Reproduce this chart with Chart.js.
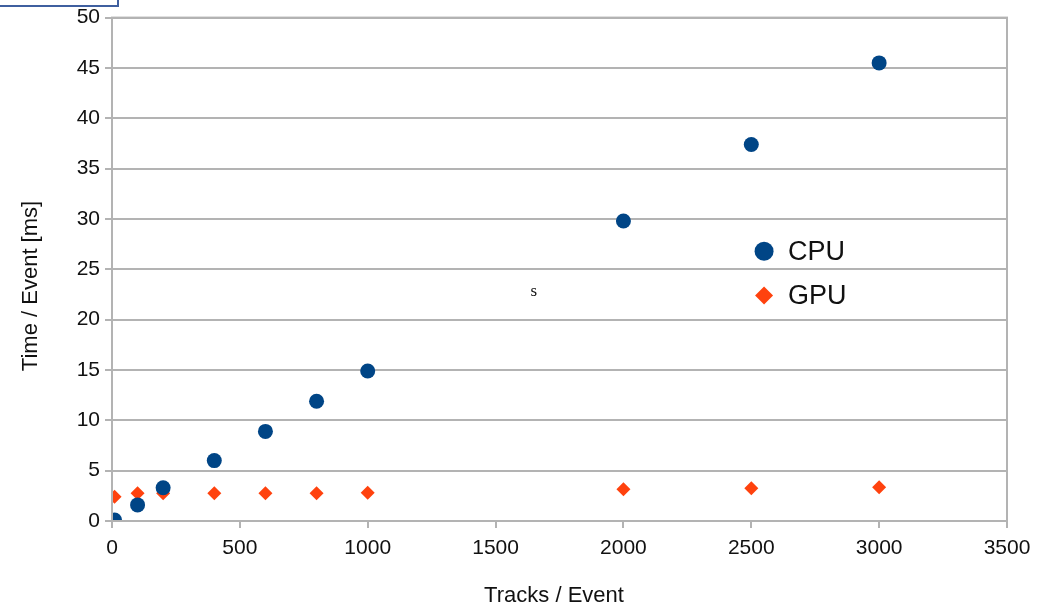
<!DOCTYPE html>
<html><head><meta charset="utf-8">
<script src="https://cdn.jsdelivr.net/npm/chart.js@4/dist/chart.umd.min.js"></script>
<style>
html,body{margin:0;padding:0;background:#fff;}
#wrap{position:relative;width:1051px;height:606px;overflow:hidden;}
#box{position:absolute;left:-3px;top:-20px;width:118px;height:23px;border:2px solid #3f5f9f;background:#fff;}
</style></head>
<body><div id="wrap"><canvas id="c" width="1051" height="606"></canvas><div id="box"></div></div>
<script>
const tracks = [10, 100, 200, 400, 600, 800, 1000, 2000, 2500, 3000];
const cpuTimes = [0.1, 1.6, 3.3, 6.0, 8.9, 11.9, 14.9, 29.8, 37.4, 45.5];
const gpuTimes = [2.4, 2.75, 2.75, 2.75, 2.75, 2.75, 2.8, 3.15, 3.25, 3.35];
const seriesNames = ['CPU', 'GPU'];
const xTitle = 'Tracks / Event';
const yTitle = 'Time / Event [ms]';
const xTicks = [0, 500, 1000, 1500, 2000, 2500, 3000, 3500];
const yTicks = [0, 5, 10, 15, 20, 25, 30, 35, 40, 45, 50];
const FONT = "'Liberation Sans', Arial, sans-serif";
const GRID = '#b3b3b3';
const TEXT = '#111';

const toPts = (xs, ys) => xs.map((x, i) => ({x, y: ys[i]}));

const framePlugin = {
  id: 'frame',
  afterDraw(chart) {
    const {ctx, chartArea: a, scales} = chart;
    ctx.save();
    ctx.strokeStyle = GRID; ctx.lineWidth = 2;
    ctx.strokeRect(a.left, a.top, a.right - a.left, a.bottom - a.top);
    // axis titles
    ctx.fillStyle = TEXT;
    ctx.font = "22px " + FONT; ctx.textBaseline = 'middle'; ctx.textAlign = 'center';
    ctx.fillText(xTitle, 554, 596);
    ctx.save();
    ctx.translate(31, 286); ctx.rotate(-Math.PI / 2);
    ctx.fillText(yTitle, 0, 0);
    ctx.restore();
    // legend
    const lx = scales.x.getPixelForValue(2550);
    const items = [
      {y: scales.y.getPixelForValue(26.8), name: seriesNames[0], color: '#004586', shape: 'circle'},
      {y: scales.y.getPixelForValue(22.4), name: seriesNames[1], color: '#ff420e', shape: 'rect'}
    ];
    ctx.font = "27px " + FONT; ctx.textAlign = 'left';
    items.forEach(it => {
      ctx.fillStyle = it.color;
      ctx.beginPath();
      if (it.shape === 'circle') { ctx.arc(lx, it.y, 9.5, 0, Math.PI*2); }
      else { ctx.moveTo(lx, it.y-9); ctx.lineTo(lx+9, it.y); ctx.lineTo(lx, it.y+9); ctx.lineTo(lx-9, it.y); ctx.closePath(); }
      ctx.fill();
      ctx.fillStyle = TEXT;
      ctx.fillText(it.name, lx + 24, it.y + 1);
    });
    // stray "s"
    ctx.font = "17px 'Liberation Serif', 'DejaVu Serif', serif";
    ctx.textAlign = 'center';
    ctx.fillText('s', scales.x.getPixelForValue(1650), scales.y.getPixelForValue(22.8));
    ctx.restore();
  }
};

new Chart(document.getElementById('c'), {
  type: 'scatter',
  data: {
    datasets: [
      {label: seriesNames[0], data: toPts(tracks, cpuTimes), pointStyle: 'circle', pointRadius: 7.5,
       backgroundColor: '#004586', borderColor: '#004586', borderWidth: 0},
      {label: seriesNames[1], data: toPts(tracks, gpuTimes), pointStyle: 'rectRot', pointRadius: 7,
       backgroundColor: '#ff420e', borderColor: '#ff420e', borderWidth: 0}
    ]
  },
  options: {
    responsive: false, animation: false,
    layout: {padding: {left: 0, top: 17, right: 44, bottom: 0}},
    plugins: {legend: {display: false}, tooltip: {enabled: false}},
    scales: {
      x: {
        type: 'linear', min: 0, max: 3500,
        afterBuildTicks: s => { s.ticks = xTicks.map(v => ({value: v})); },
        afterFit: s => { s.height = 85; },
        grid: {color: 'transparent', tickColor: GRID, tickLength: 7, lineWidth: 2, drawOnChartArea: false},
        border: {display: true, color: GRID, width: 2},
        ticks: {color: TEXT, font: {family: FONT, size: 21}, padding: 8, maxRotation: 0, callback: v => String(v)},
        title: {display: false}
      },
      y: {
        type: 'linear', min: 0, max: 50,
        afterBuildTicks: s => { s.ticks = yTicks.map(v => ({value: v})); },
        afterFit: s => { s.width = 112; },
        grid: {color: GRID, tickColor: GRID, tickLength: 7, lineWidth: 2},
        border: {display: true, color: GRID, width: 2},
        ticks: {color: TEXT, font: {family: FONT, size: 21}, padding: 5, callback: v => String(v)},
        title: {display: false}
      }
    }
  },
  plugins: [framePlugin]
});
</script>
</body></html>
